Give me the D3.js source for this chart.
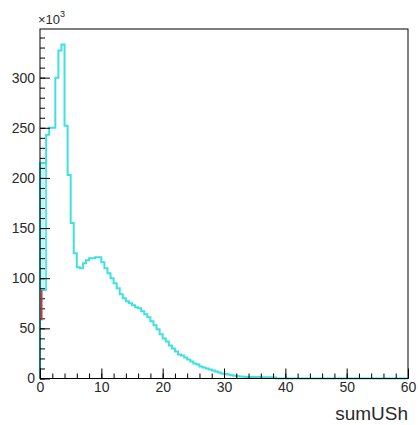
<!DOCTYPE html>
<html lang="en">
<head>
    <title>sumUSh</title>
    <script src="https://d3js.org/d3.v7.min.js"></script>
    <style>
        body { margin: 0; background: #fff; }
        text { font-family: "Liberation Sans", Arial, sans-serif; fill: #2a2a2a; }
        .hist { fill: none; stroke: #40e0e0; stroke-width: 2px; }
        .axis path { display: none; }
        .axis line { stroke: #000; }
    </style>
</head>
<body>
    <svg id="plot"></svg>

    <script>
        // bin contents (units of 10^3), 120 bins of width 0.5 from 0 to 60
        var binWidth = 0.5;
        var counts = [
            215, 215, 243, 250, 250, 300, 327, 333, 252, 203,
            155, 125, 111, 110, 115, 118, 120, 120, 121, 121,
            116, 110, 105, 100, 95, 90, 84, 80, 77, 75,
            73, 71, 70, 67, 64, 61, 57, 53, 49, 44,
            40, 37, 33, 30, 27, 24, 23, 21, 19, 17,
            15, 14, 12, 11, 10, 9, 8, 7, 6, 5,
            4.5, 4, 3.3, 2.8, 2.3, 2.0, 1.8, 1.6, 1.5, 1.5,
            1.4, 1.4, 1.3, 1.3, 1.2, 1.2, 1.1, 0, 0, 0,
            0, 0, 0, 0, 0, 0, 0, 0, 0, 0,
            0, 0, 0, 0, 0, 0, 0, 0, 0, 0,
            0, 0, 0, 0, 0, 0, 0, 0, 0, 0,
            0, 0, 0, 0, 0, 0, 0, 0, 0, 0
        ];
        // first-bin band and red error bar near x = 0
        var bandX = [0, 1];
        var bandY = [88, 215];
        var redX = 0.25;
        var redY = [58, 88];

        var xTicks = [0, 10, 20, 30, 40, 50, 60];
        var yTicks = [0, 50, 100, 150, 200, 250, 300];
        var xTitle = "sumUSh";

        var W = 418, H = 425;
        var fLeft = 40, fRight = 408, fTop = 29, fBottom = 378.5;

        var svg = d3.select("#plot").attr("width", W).attr("height", H);

        var x = d3.scaleLinear().domain([0, 60]).range([fLeft, fRight]);
        var y = d3.scaleLinear().domain([0, 348.5]).range([fBottom, fTop]);

        // band in the first bins
        svg.append("rect")
            .attr("x", x(bandX[0]))
            .attr("y", y(bandY[1]))
            .attr("width", x(bandX[1]) - x(bandX[0]))
            .attr("height", y(bandY[0]) - y(bandY[1]))
            .attr("fill", "#c8f6f6")
            .attr("stroke", "#40e0e0")
            .attr("stroke-width", 1.5);

        // histogram outline as a step path
        var pts = [[0, 0]];
        counts.forEach(function (c, i) {
            pts.push([i * binWidth, c]);
            pts.push([(i + 1) * binWidth, c]);
        });
        pts.push([counts.length * binWidth, 0]);

        var line = d3.line()
            .x(function (d) { return x(d[0]); })
            .y(function (d) { return y(d[1]); });

        svg.append("path")
            .datum(pts)
            .attr("class", "hist")
            .attr("d", line);

        // axes, ticks pointing into the frame
        svg.append("g")
            .attr("class", "axis")
            .attr("transform", "translate(" + fLeft + ",0)")
            .call(d3.axisLeft(y).tickValues(d3.range(0, 341, 10)).tickSize(-5).tickFormat(""));
        svg.append("g")
            .attr("class", "axis")
            .attr("transform", "translate(" + fLeft + ",0)")
            .call(d3.axisLeft(y).tickValues(yTicks).tickSize(-10).tickPadding(5).tickFormat(d3.format("d")))
            .selectAll("text").style("font-size", "14px");

        svg.append("g")
            .attr("class", "axis")
            .attr("transform", "translate(0," + fBottom + ")")
            .call(d3.axisBottom(x).tickValues(d3.range(0, 61, 2)).tickSize(-5).tickFormat(""));
        svg.append("g")
            .attr("class", "axis")
            .attr("transform", "translate(0," + fBottom + ")")
            .call(d3.axisBottom(x).tickValues(xTicks).tickSize(-10).tickPadding(4).tickFormat(d3.format("d")))
            .selectAll("text").style("font-size", "14px");

        // frame
        svg.append("rect")
            .attr("x", fLeft).attr("y", fTop)
            .attr("width", fRight - fLeft).attr("height", fBottom - fTop)
            .attr("fill", "none").attr("stroke", "#000").attr("stroke-width", 1);

        // red error bar, drawn over the axis line
        svg.append("line")
            .attr("x1", x(redX)).attr("x2", x(redX))
            .attr("y1", y(redY[0])).attr("y2", y(redY[1]))
            .attr("stroke", "#c03848")
            .attr("stroke-width", 2);

        // exponent label
        var ex = svg.append("text").attr("x", fLeft - 2).attr("y", 24).style("font-size", "13px");
        ex.append("tspan").text("\u00d710");
        ex.append("tspan").attr("dy", -7).style("font-size", "9px").text("3");

        // axis title
        svg.append("text")
            .attr("x", fRight)
            .attr("y", 420)
            .attr("text-anchor", "end")
            .style("font-size", "19px")
            .text(xTitle);
    </script>
</body>
</html>
